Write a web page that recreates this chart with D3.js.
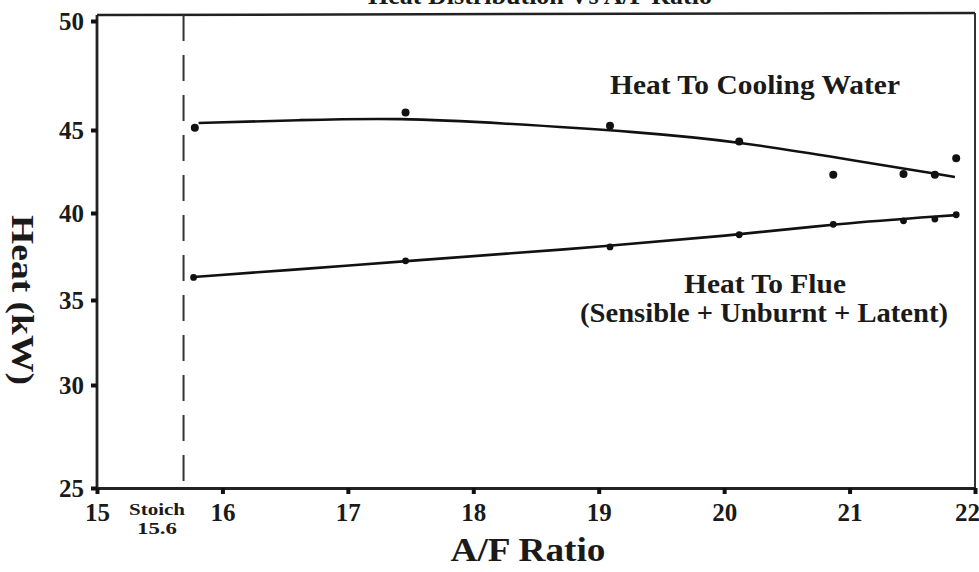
<!DOCTYPE html>
<html>
<head>
<meta charset="utf-8">
<script src="https://cdn.jsdelivr.net/npm/d3@7"></script>
<style>
  body { margin: 0; background: #fff; }
  svg { display: block; }
  text { font-family: "Liberation Serif", "DejaVu Serif", serif; font-weight: bold; fill: #1a1a1a; }
</style>
</head>
<body>
<div id="chart"></div>
<script>
// A/F ratio where each point was measured
var afCooling = [15.78, 17.46, 19.09, 20.12, 20.87, 21.43, 21.68, 21.85];
var heatCooling = [45.1, 45.8, 45.2, 44.3, 42.3, 42.35, 42.3, 43.3];
var afFlue = [15.77, 17.46, 19.09, 20.12, 20.87, 21.43, 21.68, 21.85];
var heatFlue = [36.3, 37.25, 38.05, 38.75, 39.35, 39.55, 39.65, 39.9];

// fitted curves
var afCoolingFit = [15.81, 16.62, 17.42, 18.21, 19.33, 20.13, 20.92, 21.84];
var heatCoolingFit = [45.32, 45.46, 45.55, 45.32, 44.88, 44.28, 43.31, 42.17];
var afFlueFit = [15.77, 16.75, 17.46, 18.69, 20.12, 20.87, 21.85];
var heatFlueFit = [36.32, 36.84, 37.24, 37.87, 38.74, 39.37, 39.88];

var xTicks = [15, 16, 17, 18, 19, 20, 21, 22];
var yTicks = [25, 30, 35, 40, 45, 50];
var stoichAF = 15.69;

var width = 979, height = 572;
var svg = d3.select("#chart").append("svg")
    .attr("width", width)
    .attr("height", height);

var x = d3.scaleLinear().domain([15, 22]).range([97, 975]);
// the scanned axis is not evenly spaced, so map every tick where it sits
var y = d3.scaleLinear()
    .domain(yTicks)
    .range([488, 385, 300, 213, 130, 21]);

// title, mostly cut off at the top edge
svg.append("text")
    .attr("x", 540)
    .attr("y", 4)
    .attr("text-anchor", "middle")
    .attr("font-size", 26)
    .text("Heat Distribution Vs A/F Ratio");

// frame
svg.append("line")
    .attr("x1", 97).attr("x2", 975).attr("y1", 15).attr("y2", 13)
    .attr("stroke", "#222").attr("stroke-width", 2.5);
svg.append("line")
    .attr("x1", 975).attr("x2", 975).attr("y1", 13).attr("y2", y(25))
    .attr("stroke", "#333").attr("stroke-width", 2);

// axes
var xAxis = svg.append("g")
    .attr("transform", `translate(0,${y(25)})`)
    .call(d3.axisBottom(x).tickValues(xTicks).tickFormat(d3.format("d"))
        .tickSize(6).tickSizeOuter(0).tickPadding(9));
var yAxis = svg.append("g")
    .attr("transform", `translate(${x(15)},0)`)
    .call(d3.axisLeft(y).tickValues(yTicks).tickFormat(d3.format("d"))
        .tickSize(6).tickSizeOuter(0).tickPadding(7));

[xAxis, yAxis].forEach(function(g) {
    g.select(".domain").attr("stroke", "#222").attr("stroke-width", 2.8);
    g.selectAll(".tick line").attr("stroke", "#111").attr("stroke-width", 4);
    g.selectAll(".tick text")
        .attr("font-size", 25)
        .attr("font-family", "Liberation Serif, serif")
        .attr("font-weight", "bold")
        .attr("fill", "#1a1a1a");
});
yAxis.select(".domain").attr("d", `M0,${y(25)}V15`);
yAxis.selectAll(".tick text").attr("dy", "0.34em");
// last label sits against the right edge
xAxis.selectAll(".tick text").filter(d => d === 22).attr("dx", -8);

// stoichiometric marker
svg.append("line")
    .attr("x1", x(stoichAF)).attr("x2", x(stoichAF))
    .attr("y1", 15).attr("y2", y(25))
    .attr("stroke", "#333")
    .attr("stroke-width", 2)
    .attr("stroke-dasharray", "26,14");
svg.append("text")
    .attr("x", 157).attr("y", 515)
    .attr("text-anchor", "middle")
    .attr("font-size", 16)
    .attr("textLength", 56)
    .attr("lengthAdjust", "spacingAndGlyphs")
    .text("Stoich");
svg.append("text")
    .attr("x", 157).attr("y", 534)
    .attr("text-anchor", "middle")
    .attr("font-size", 16)
    .attr("textLength", 40)
    .attr("lengthAdjust", "spacingAndGlyphs")
    .text("15.6");

// fitted curves
var line = d3.line()
    .x(d => x(d[0]))
    .y(d => y(d[1]))
    .curve(d3.curveBasis);

svg.append("path")
    .attr("d", line(d3.zip(afCoolingFit, heatCoolingFit)))
    .attr("fill", "none").attr("stroke", "#111").attr("stroke-width", 2.6);
svg.append("path")
    .attr("d", line(d3.zip(afFlueFit, heatFlueFit)))
    .attr("fill", "none").attr("stroke", "#111").attr("stroke-width", 2.6);

// measured points
svg.selectAll(".pt-cool")
    .data(d3.zip(afCooling, heatCooling))
    .join("circle")
    .attr("class", "pt-cool")
    .attr("cx", d => x(d[0]))
    .attr("cy", d => y(d[1]))
    .attr("r", 4)
    .attr("fill", "#111");
svg.selectAll(".pt-flue")
    .data(d3.zip(afFlue, heatFlue))
    .join("circle")
    .attr("class", "pt-flue")
    .attr("cx", d => x(d[0]))
    .attr("cy", d => y(d[1]))
    .attr("r", 3.4)
    .attr("fill", "#111");

// labels
function label(txt, cx, cy, size, len) {
    return svg.append("text")
        .attr("x", cx).attr("y", cy)
        .attr("text-anchor", "middle")
        .attr("font-size", size)
        .attr("textLength", len)
        .attr("lengthAdjust", "spacingAndGlyphs")
        .text(txt);
}
label("Heat To Cooling Water", 755, 94, 27, 290);
label("Heat To Flue", 765, 293, 27, 162);
label("(Sensible + Unburnt + Latent)", 764, 322, 27, 368);
label("A/F Ratio", 528, 561, 33, 155);

svg.append("text")
    .attr("transform", "translate(12,300) rotate(90)")
    .attr("text-anchor", "middle")
    .attr("font-size", 32)
    .attr("textLength", 170)
    .attr("lengthAdjust", "spacingAndGlyphs")
    .text("Heat (kW)");
</script>
</body>
</html>
